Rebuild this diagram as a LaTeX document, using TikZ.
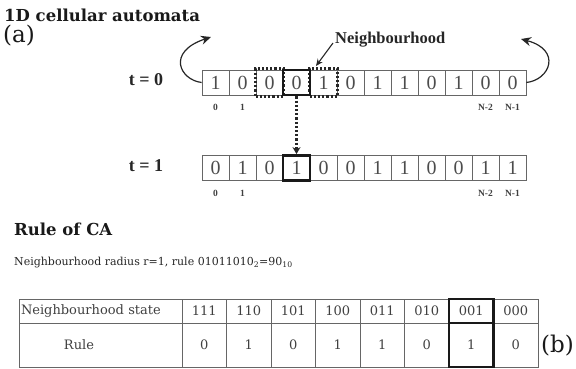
\documentclass[tikz,border=0pt]{standalone}
\usepackage{fontspec}
\setmainfont{Liberation Serif}
\newfontfamily\dvs{DejaVu Serif}
\usetikzlibrary{arrows.meta}
\begin{document}
\begin{tikzpicture}[x=1pt,y=-1pt,
  cell/.style={draw=black!60, line width=0.7pt, minimum width=27pt, minimum height=25pt, inner sep=0pt, font=\fontsize{20}{20}\selectfont, text=black!70},
  idx/.style={font=\fontsize{9.5}{10}\selectfont\bfseries, text=black!75, inner sep=0pt},
  tlab/.style={font=\fontsize{18}{18}\selectfont\bfseries, text=black!85, inner sep=0pt},
  dotbox/.style={draw=black!85, dotted, line width=2.2pt, minimum width=28pt, minimum height=28pt, inner sep=0pt},
  boldbox/.style={draw=black!90, line width=2.8pt, minimum width=27pt, minimum height=25pt, inner sep=0pt},
  arr/.style={line width=1.2pt, black!85, -{Stealth[length=10pt,width=9pt]}},
  tcell/.style={draw=black!60, line width=0.7pt, minimum width=44.5pt, inner sep=0pt, font=\dvs\fontsize{13}{13}\selectfont, text=black!75},
  title/.style={font=\dvs\fontsize{16.5}{16.5}\selectfont\bfseries, text=black!90, inner sep=0pt, anchor=west},
  paren/.style={font=\dvs\fontsize{23}{23}\selectfont, text=black!90, inner sep=0pt, anchor=west}
]
\useasboundingbox (0,0) rectangle (576,369);

% titles
\node[title] (t1) at (4,15) {1D cellular automata};
\node[paren] (pa) at (3,36) {(a)};

% time labels
\node[tlab] (l0) at (146,80) {t = 0};
\node[tlab] (l1) at (146,166) {t = 1};

% row t=0
\foreach \v [count=\i from 0] in {1,0,0,0,1,0,1,1,0,1,0,0}
  \node[cell] (a\i) at ({215.5+27*\i},82.5) {\v};
% row t=1
\foreach \v [count=\i from 0] in {0,1,0,1,0,0,1,1,0,0,1,1}
  \node[cell] (b\i) at ({215.5+27*\i},168) {\v};

% index labels
\node[idx] (ia0) at (a0.center |- 0,107) {0};
\node[idx] (ia1) at (a1.center |- 0,107) {1};
\node[idx] (ia10) at (a10.center |- 0,107) {N-2};
\node[idx] (ia11) at (a11.center |- 0,107) {N-1};
\node[idx] (ib0) at (b0.center |- 0,193) {0};
\node[idx] (ib1) at (b1.center |- 0,193) {1};
\node[idx] (ib10) at (b10.center |- 0,193) {N-2};
\node[idx] (ib11) at (b11.center |- 0,193) {N-1};

% neighbourhood boxes
\node[dotbox] (n2) at (a2) {};
\node[dotbox] (n4) at (a4) {};
\node[boldbox] (h0) at (a3) {};
\node[boldbox] (h1) at (b3) {};

% dotted arrow
\draw[dotted, line width=2.2pt, black!85, -{Stealth[length=7pt,width=8pt]}] (h0.south) -- (h1.north);

% Neighbourhood label
\node[font=\fontsize{16.5}{16.5}\selectfont\bfseries, text=black!85, inner sep=0pt, anchor=west] (nb) at (335,40) {Neighbourhood};
\coordinate (nbs) at (333,43);
\coordinate (nbe) at (316,66);
\draw[line width=1.1pt, black!85, -{Stealth[length=7pt,width=6pt]}] (nbs) -- (nbe);

% wrap-around arrows
\coordinate (lt) at (211,37);
\coordinate (rt) at (521,39);
\draw[arr] (a0.west) .. controls (180,80) and (166,52) .. (lt);
\draw[arr] (a11.east) .. controls (550,80) and (562,50) .. (rt);

% rule section
\node[title] (r1) at (14,229) {Rule of CA};
\node[font=\dvs\fontsize{11}{12}\selectfont, text=black!85, inner sep=0pt, anchor=west] (r2) at (14,263) {Neighbourhood radius r=1, rule 01011010\textsubscript{2}=90\textsubscript{10}};

% table
\node[tcell, minimum width=163pt, minimum height=24pt, text width=159pt, align=left] (hs) at (100.5,311) {Neighbourhood state};
\node[tcell, minimum width=163pt, minimum height=44pt] (hr) at (100.5,345) {};
\node[font=\dvs\fontsize{13}{13}\selectfont, text=black!75, inner sep=0pt] (rl) at (79,345) {Rule};
\foreach \s/\r [count=\i from 0] in {111/0,110/1,101/0,100/1,011/1,010/0,001/1,000/0}{
  \node[tcell, minimum height=24pt] (s\i) at ({204.25+44.5*\i},311) {\s};
  \node[tcell, minimum height=44pt] (q\i) at ({204.25+44.5*\i},345) {\r};
}
\node[draw=black!90, line width=2.8pt, minimum width=44.5pt, minimum height=24pt, inner sep=0pt] (bs) at (s6) {};
\node[draw=black!90, line width=2.8pt, minimum width=44.5pt, minimum height=44pt, inner sep=0pt] (bq) at (q6) {};
\node[paren] (pb) at (541,346) {(b)};
\end{tikzpicture}
\end{document}
